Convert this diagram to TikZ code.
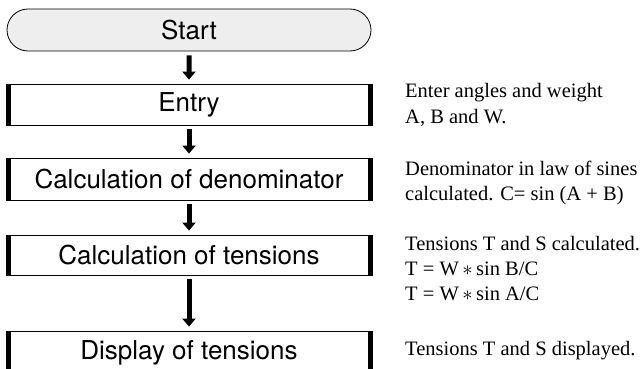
\documentclass[tikz,border=0pt]{standalone}
\usepackage{fontspec}
\setmainfont{Liberation Serif}
\setsansfont{TeX Gyre Heros}
\usetikzlibrary{arrows.meta,shapes.misc}
\tikzset{
  boxtext/.style={font=\sffamily\fontsize{26}{30}\selectfont, text=black},
  startbox/.style={boxtext, rounded rectangle, draw=black, line width=0.8pt,
    fill=gray!13, minimum width=364pt, minimum height=42pt, inner sep=0pt},
  procbox/.style={boxtext, rectangle, draw=black, line width=0.8pt,
    minimum width=366pt, inner sep=0pt,
    path picture={
      \fill[black] (path picture bounding box.north west) rectangle
        ([xshift=4.5pt]path picture bounding box.south west);
      \fill[black] (path picture bounding box.north east) rectangle
        ([xshift=-4.5pt]path picture bounding box.south east);
    }},
  flowarrow/.style={line width=5pt, -{Triangle[width=13pt,length=8pt]},
    shorten <=4pt, shorten >=4pt},
  note/.style={font=\fontsize{20.5}{25}\selectfont, anchor=base west,
    inner sep=0pt, text=black}
}
\begin{document}
\begin{tikzpicture}[x=1pt,y=1pt]
\useasboundingbox (0,0) rectangle (643,-369);
\begin{scope}
\clip (0,0) rectangle (643,-369);
\node[startbox] (start) at (189,-30) {Start};
\node[procbox, minimum height=41pt] (entry) at (189,-104.5) {Entry};
\node[procbox, minimum height=42pt] (denom) at (189,-179) {Calculation of denominator};
\node[procbox, minimum height=40pt] (tens) at (189,-255) {Calculation of tensions};
\node[procbox, minimum height=44pt] (disp) at (189,-353) {Display of tensions};

\draw[flowarrow] (start) -- (entry);
\draw[flowarrow] (entry) -- (denom);
\draw[flowarrow] (denom) -- (tens);
\draw[flowarrow] (tens) -- (disp);
\end{scope}

\node[note] (n1) at (405,-98) {\vtop{\hbox{Enter angles and weight}\hbox{A, B and W.}}};
\node[note] (n2) at (405,-175) {\vtop{\hbox{Denominator in law of sines}\hbox{calculated. C= sin (A + B)}}};
\node[note] (n3) at (405,-250) {\vtop{\hbox{Tensions T and S calculated.}\hbox{T = W\,$\ast$\,sin B/C}\hbox{T = W\,$\ast$\,sin A/C}}};
\node[note] (n4) at (405,-355) {Tensions T and S displayed.};
\end{tikzpicture}
\end{document}
